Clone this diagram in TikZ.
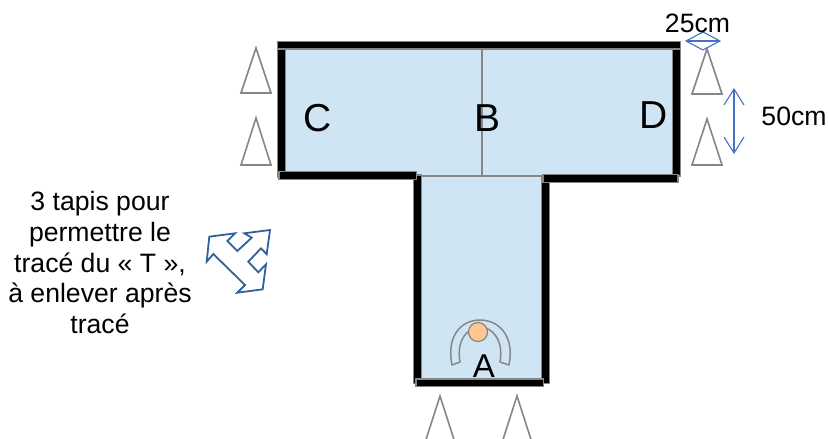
\documentclass[tikz,border=0pt]{standalone}
\usepackage{fontspec}
\setmainfont{Liberation Sans}
\definecolor{roomblue}{HTML}{CFE5F3}
\definecolor{wallgray}{HTML}{868686}
\definecolor{dimblue}{HTML}{4472C4}
\definecolor{arrowblue}{HTML}{2F619F}
\definecolor{headorange}{HTML}{FFC78F}
\tikzset{
  wall/.style={fill=black,draw=wallgray,line width=1.3pt},
  cone/.style={draw=wallgray,line width=1.6pt,line join=miter},
  dimline/.style={draw=dimblue,line width=1.1pt},
  label/.style={inner sep=0pt,font=\fontsize{26.6}{30.8}\selectfont},
  room/.style={inner sep=0pt,font=\fontsize{39}{44}\selectfont}
}
\begin{document}
\begin{tikzpicture}[x=1pt,y=1pt]
\useasboundingbox (0,0) rectangle (828,-439);
% floor
\fill[roomblue] (282,-46) -- (676,-46) -- (676,-177) -- (545,-177) -- (545,-382) -- (417,-382) -- (417,-177) -- (282,-177) -- cycle;
\draw[wallgray,line width=1.5pt] (482,-49) -- (482,-176);
\draw[wallgray,line width=1.5pt] (417,-176) -- (543,-176);
% walls
\draw[wall] (413.7,-175) rectangle (421.3,-383.5);
\draw[wall] (541.7,-177) rectangle (549.3,-383.5);
\draw[wall] (416,-379) rectangle (543.5,-386.7);
\draw[wall] (277.7,-49) rectangle (285.3,-177);
\draw[wall] (672.7,-49) rectangle (680.3,-176);
\draw[wall] (279,-171.2) rectangle (416.8,-179.7);
\draw[wall] (543,-174.8) rectangle (678,-182.7);
\draw[wall] (277.7,-41.5) rectangle (680.3,-49);
% cones
\draw[cone] (256,-48) -- (271,-93) -- (241,-93) -- cycle;
\draw[cone] (256,-118) -- (271,-165) -- (241,-165) -- cycle;
\draw[cone] (707,-49) -- (722,-94) -- (692,-94) -- cycle;
\draw[cone] (707,-119) -- (722,-165) -- (692,-165) -- cycle;
\draw[cone] (426,-439.5) -- (440,-396) -- (454,-439.5);
\draw[cone] (503,-439.5) -- (517,-396) -- (531,-439.5);
% dimension arrows
\draw[dimline] (686,-41) -- (720,-41);
\draw[dimline] (703,-32) -- (686,-41) -- (703,-50);
\draw[dimline] (703,-32) -- (720,-41) -- (703,-50);
\draw[dimline] (734,-89) -- (734,-153);
\draw[dimline] (724,-105) -- (734,-89) -- (744,-105);
\draw[dimline] (724,-137) -- (734,-153) -- (744,-137);
% three-way arrow
\draw[arrowblue,line width=1.8pt,line join=miter,fill=white]
  (209.3,-236.7) -- (235,-233.3) -- (227.3,-241) -- (237.3,-251) -- (251.7,-237.7)
  -- (244.3,-233.3) -- (270,-230) -- (266.7,-254.3) -- (261,-248.3) -- (248.3,-261.7)
  -- (258.3,-272.3) -- (266,-264.3) -- (262.7,-289.3) -- (237.3,-292.7) -- (245,-285)
  -- (213.3,-254) -- (206.7,-261.7) -- cycle;
% person
\draw[wallgray,line width=1.5pt,line join=round]
  (452,-365) .. controls (446,-335) and (462,-320) .. (480,-320)
  .. controls (498,-320) and (515,-335) .. (509,-365)
  -- (500,-362) .. controls (504,-340) and (492,-327) .. (480,-327)
  .. controls (468,-327) and (456,-340) .. (460,-362)
  -- cycle;
\draw[wallgray,line width=1.2pt,fill=headorange] (478,-332) circle[radius=9.5];
% labels
\node[label] (dimA) at (697.5,-23) {25cm};
\node[label] (dimB) at (794,-116) {50cm};
\node[room] (roomC) at (317.5,-118.5) {C};
\node[room] (roomB) at (487.5,-118.5) {B};
\node[room] (roomD) at (654,-115) {D};
\node[inner sep=0pt,font=\fontsize{33}{36}\selectfont] (roomA) at (484,-366) {A};
\node[label,align=center] (note) at (100,-262.5) {3 tapis pour\\permettre le\\tracé du « T »,\\à enlever après\\tracé};
\end{tikzpicture}
\end{document}
